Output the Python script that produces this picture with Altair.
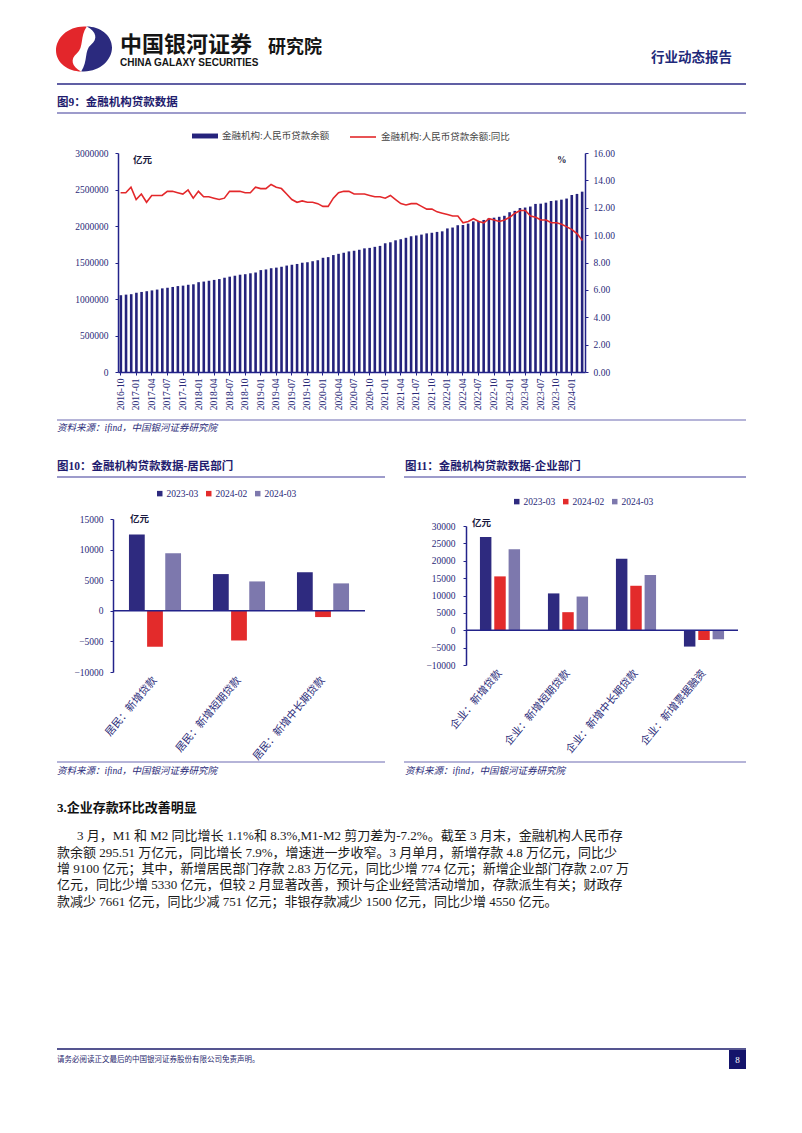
import altair as alt
import pandas as pd

# ---------------- data ----------------
months = []
for yy in range(2016, 2025):
    for mm in range(1, 13):
        if (yy == 2016 and mm < 10) or (yy == 2024 and mm > 3):
            continue
        months.append(f"{yy}-{mm:02d}")

balance = [
    1051900, 1059800, 1066000,
    1086300, 1096500, 1106700, 1117700, 1129000, 1145700, 1154000, 1165000, 1177000, 1183000, 1195000, 1201300,
    1230300, 1238700, 1250000, 1261600, 1273100, 1291500, 1306000, 1318800, 1332700, 1339700, 1352200, 1363000,
    1396000, 1404800, 1421500, 1429800, 1441600, 1458000, 1469000, 1480000, 1496900, 1503500, 1517400, 1531100,
    1564500, 1573500, 1601800, 1618800, 1633600, 1652000, 1661000, 1674500, 1693700, 1700000, 1714500, 1727500,
    1763300, 1776900, 1804000, 1818800, 1838300, 1859500, 1870200, 1882200, 1898800, 1907200, 1919000, 1926900,
    1966700, 1979000, 2010600, 2013900, 2032800, 2063500, 2070300, 2082800, 2107600, 2113900, 2126000, 2139900,
    2188900, 2207000, 2246100, 2253000, 2266700, 2302500, 2305900, 2319400, 2342500, 2349900, 2360800, 2375900,
    2425000, 2439500, 2470400,
]
yoy = [
    13.1, 13.1, 13.5,
    12.6, 13.0, 12.4, 12.9, 12.9, 12.9, 13.2, 13.2, 13.1, 13.0, 13.3, 12.7,
    13.2, 12.8, 12.8, 12.7, 12.6, 12.7, 13.2, 13.2, 13.2, 13.1, 13.1, 13.5,
    13.4, 13.4, 13.7, 13.5, 13.4, 13.0, 12.6, 12.4, 12.5, 12.4, 12.4, 12.3,
    12.1, 12.1, 12.7, 13.1, 13.2, 13.2, 13.0, 13.0, 13.0, 12.9, 12.8, 12.8,
    12.7, 12.9, 12.6, 12.3, 12.2, 12.3, 12.3, 12.1, 11.9, 11.9, 11.7, 11.6,
    11.5, 11.4, 11.4, 10.9, 11.0, 11.2, 11.0, 10.9, 11.2, 11.1, 11.0, 11.1,
    11.3, 11.6, 11.8, 11.8, 11.4, 11.3, 11.1, 11.1, 10.9, 10.9, 10.8, 10.6,
    10.4, 10.1, 9.6,
]
series9_bar = "金融机构:人民币贷款余额"
series9_line = "金融机构:人民币贷款余额:同比"

periods = ["2023-03", "2024-02", "2024-03"]

cats10 = ["居民：新增贷款", "居民：新增短期贷款", "居民：新增中长期贷款"]
h_2303 = [12467, 6000, 6300]
h_2402 = [-5873, -4849, -1024]
h_2403 = [9406, 4800, 4480]

cats11 = ["企业：新增贷款", "企业：新增短期贷款", "企业：新增中长期贷款", "企业：新增票据融资"]
c_2303 = [26800, 10600, 20600, -4700]
c_2402 = [15500, 5200, 12800, -2800]
c_2403 = [23300, 9700, 15900, -2600]

para = [
    "3 月，M1 和 M2 同比增长 1.1%和 8.3%,M1-M2 剪刀差为-7.2%。截至 3 月末，金融机构人民币存",
    "款余额 295.51 万亿元，同比增长 7.9%，增速进一步收窄。3 月单月，新增存款 4.8 万亿元，同比少",
    "增 9100 亿元；其中，新增居民部门存款 2.83 万亿元，同比少增 774 亿元；新增企业部门存款 2.07 万",
    "亿元，同比少增 5330 亿元，但较 2 月显著改善，预计与企业经营活动增加，存款派生有关；财政存",
    "款减少 7661 亿元，同比少减 751 亿元；非银存款减少 1500 亿元，同比少增 4550 亿元。",
]

# ---------------- styles ----------------
NAVY_AX = "#23238a"
LBL = "#2a2a78"
TITLE_C = "#1f1c6e"
LAV = "#9d9bcb"
BAR9 = "#25237c"
RED = "#e3282b"
C3 = ["#2e2a7f", "#e32b2b", "#7d78ad"]
SERIF = "Liberation Serif, Noto Sans CJK SC"
CJK = "Noto Sans CJK SC"

W, H = 786, 1117
one = alt.Data(values=[{"k": 0}])


def txt(s, x, y, size, color="#111111", weight="normal", align="left", font=SERIF, style="normal"):
    return alt.Chart(one).mark_text(
        text=s, align=align, baseline="middle", fontSize=size, font=font,
        fontWeight=weight, fontStyle=style, color=color,
    ).encode(x=alt.value(x), y=alt.value(y))


def hline(x0, x1, y, color, w):
    return alt.Chart(one).mark_rule(color=color, strokeWidth=w).encode(
        x=alt.value(x0), x2=alt.value(x1), y=alt.value(y))


axis_common = dict(domainColor=NAVY_AX, domainWidth=1.5, tickColor=NAVY_AX, labelColor=LBL,
                   labelFont=SERIF, grid=False, title=None)

layers = []

# ---------------- header ----------------
red_path = ("M 0.1,-0.8 C -0.55,-0.85 -1.0,-0.4 -1.0,0.05 C -1.0,0.5 -0.55,0.8 -0.1,0.8 "
            "C -0.45,0.62 -0.5,0.35 -0.25,0.15 C 0.0,-0.05 -0.15,-0.45 0.1,-0.8 Z")
navy_path = ("M -0.1,0.8 C 0.55,0.85 1.0,0.4 1.0,-0.05 C 1.0,-0.5 0.55,-0.8 0.1,-0.8 "
             "C 0.45,-0.62 0.5,-0.35 0.25,-0.15 C 0.0,0.05 0.15,0.45 -0.1,0.8 Z")
layers += [
    alt.Chart(one).mark_point(shape=red_path, filled=True, size=3136, color="#e3262b",
                              opacity=1, strokeWidth=0).encode(x=alt.value(76), y=alt.value(41)),
    alt.Chart(one).mark_point(shape=navy_path, filled=True, size=3136, color="#2b2a7e",
                              opacity=1, strokeWidth=0).encode(x=alt.value(76), y=alt.value(41)),
    txt("中国银河证券", 112, 37, 22, "#151515", "bold", font=CJK),
    txt("CHINA GALAXY SECURITIES", 112, 55, 10, "#151515", "bold",
        font="Liberation Sans Narrow, Liberation Sans"),
    txt("研究院", 260, 40, 18, "#151515", "bold", font=CJK),
    txt("行业动态报告", 724, 50, 13.5, "#1f2a7a", "bold", align="right", font=CJK),
    hline(49, 738, 76, "#2b2a86", 1.5),
    txt("图9：金融机构贷款数据", 49, 95, 11.5, TITLE_C, "bold"),
    hline(49, 738, 105, LAV, 2),
]

# ---------------- chart 9 ----------------
df9 = pd.DataFrame({"月份": months, "余额": balance, "同比": yoy})
X9_RANGE = [110, 577]
Y9_RANGE = [364, 145]

bars9 = alt.Chart(df9).transform_calculate(s=f"'{series9_bar}'").mark_bar().encode(
    x=alt.X("月份:O", sort=months,
            scale=alt.Scale(range=X9_RANGE, paddingInner=0.5, paddingOuter=0.3),
            axis=alt.Axis(orient="bottom", offset=Y9_RANGE[0] - H, values=months[::3], labelAngle=270,
                          labelFontSize=9.5, tickSize=3, labelPadding=3, labelOverlap=False,
                          **axis_common)),
    y=alt.Y("余额:Q", scale=alt.Scale(domain=[0, 3000000], range=Y9_RANGE, nice=False),
            axis=alt.Axis(orient="left", offset=-X9_RANGE[0],
                          values=[0, 500000, 1000000, 1500000, 2000000, 2500000, 3000000], format="d",
                          labelFontSize=9.5, tickSize=3, labelPadding=7, **axis_common)),
    color=alt.Color("s:N", title=None, scale=alt.Scale(domain=[series9_bar], range=[BAR9]),
                    legend=alt.Legend(orient="none", legendX=184, legendY=115, direction="horizontal",
                                      symbolType="M-1,-0.19L1,-0.19L1,0.19L-1,0.19Z", symbolSize=676,
                                      symbolStrokeWidth=0, labelFont=SERIF, labelFontSize=9.5,
                                      labelColor="#444444", labelOffset=4)),
)
line9 = alt.Chart(df9).transform_calculate(s2=f"'{series9_line}'").mark_line(strokeWidth=1.6).encode(
    x=alt.X("月份:O", sort=months,
            scale=alt.Scale(range=X9_RANGE, paddingInner=0.5, paddingOuter=0.3), axis=None),
    y=alt.Y("同比:Q", scale=alt.Scale(domain=[0, 16], range=Y9_RANGE, nice=False),
            axis=alt.Axis(orient="right", offset=X9_RANGE[1] - W,
                          values=[0, 2, 4, 6, 8, 10, 12, 14, 16], format=".2f",
                          labelFontSize=9.5, tickSize=3, labelPadding=5, **axis_common)),
    stroke=alt.Stroke("s2:N", title=None, scale=alt.Scale(domain=[series9_line], range=[RED]),
                      legend=alt.Legend(orient="none", legendX=341, legendY=115, direction="horizontal",
                                        symbolType="stroke", symbolSize=676, symbolStrokeWidth=1.6,
                                        labelFont=SERIF, labelFontSize=9.5, labelColor="#444444",
                                        labelOffset=4)),
)
layers += [
    bars9, line9,
    txt("亿元", 125, 152, 9.5, "#1a1a40", "bold"),
    txt("%", 549, 152, 9.5, "#1a1a40", "bold"),
]

# ---------------- captions between charts ----------------
layers += [
    hline(49, 738, 412, LAV, 1.5),
    txt("资料来源：ifind，中国银河证券研究院", 49, 420, 9.5, LBL, style="italic"),
    txt("图10：金融机构贷款数据-居民部门", 49, 459, 11.5, TITLE_C, "bold"),
    txt("图11：金融机构贷款数据-企业部门", 397, 459, 11.5, TITLE_C, "bold"),
    hline(49, 377, 469, LAV, 2),
    hline(396, 738, 469, LAV, 2),
]


# ---------------- charts 10 & 11 ----------------
def long_df(cats, a, b, c):
    rows = []
    for i, cat in enumerate(cats):
        for p, v in zip(periods, (a[i], b[i], c[i])):
            rows.append({"项目": cat, "期间": p, "值": v})
    return pd.DataFrame(rows)


def group_layers(df, cats, dom, step, xr, yr, pin, pin_off, lx, ly, unit_xy, lpad):
    ysc = alt.Scale(domain=dom, range=yr, nice=False)
    bars = alt.Chart(df).mark_bar().encode(
        x=alt.X("项目:N", sort=cats, scale=alt.Scale(range=xr, paddingInner=pin, paddingOuter=pin / 2),
                axis=alt.Axis(orient="bottom", offset=yr[0] - H, labelAngle=310, domain=False,
                              ticks=False, labelFont=SERIF, labelFontSize=10.5, labelColor=LBL,
                              labelPadding=6, labelAlign="right", labelBaseline="middle",
                              labelLimit=200, title=None, grid=False)),
        xOffset=alt.XOffset("期间:N", sort=periods, scale=alt.Scale(paddingInner=pin_off)),
        y=alt.Y("值:Q", scale=ysc,
                axis=alt.Axis(orient="left", offset=-xr[0], values=list(range(dom[0], dom[1] + 1, step)),
                              format="d", labelFontSize=9.5, tickSize=3, labelPadding=lpad,
                              **axis_common)),
        color=alt.Color("期间:N", sort=periods, title=None,
                        scale=alt.Scale(domain=periods, range=C3),
                        legend=alt.Legend(orient="none", legendX=lx, legendY=ly, direction="horizontal",
                                          symbolType="square", symbolSize=30, symbolStrokeWidth=0,
                                          labelFont=SERIF, labelFontSize=9.5, labelColor=LBL,
                                          labelOffset=2, columnPadding=5)),
    )
    zero = alt.Chart(one).mark_rule(color=NAVY_AX, strokeWidth=1.5).encode(
        x=alt.value(xr[0]), x2=alt.value(xr[1]),
        y=alt.YDatum(0, type="quantitative", scale=ysc, axis=None))
    return [bars, zero, txt("亿元", unit_xy[0], unit_xy[1], 9.5, "#1a1a40", "bold")]


df10 = long_df(cats10, h_2303, h_2402, h_2403)
df11 = long_df(cats11, c_2303, c_2402, c_2403)

layers += group_layers(df10, cats10, [-10000, 15000], 5000, [105, 357], [664, 511], 0.38, 0.13,
                       147, 480.5, (122, 511), 7)
layers += group_layers(df11, cats11, [-10000, 30000], 5000, [458, 730], [657, 518], 0.41, 0.2,
                       504, 488.5, (464, 514.5), 8)

# ---------------- text and footer ----------------
layers += [
    hline(49, 377, 754, LAV, 1.5),
    hline(396, 738, 754, LAV, 1.5),
    txt("资料来源：ifind，中国银河证券研究院", 49, 763, 9.5, LBL, style="italic"),
    txt("资料来源：ifind，中国银河证券研究院", 397, 763, 9.5, LBL, style="italic"),
    txt("3.企业存款环比改善明显", 49, 800, 13, "#111111", "bold"),
]
para_y = [828, 844.5, 860.5, 877, 893.5]
for i, (line, yv) in enumerate(zip(para, para_y)):
    layers.append(txt(line, 69 if i == 0 else 49, yv, 13, "#1a1a1a"))
layers += [
    hline(49, 738, 1041, "#1c1c6b", 1.5),
    txt("请务必阅读正文最后的中国银河证券股份有限公司免责声明。", 49, 1052, 7.5, "#1f1f6e"),
    alt.Chart(one).mark_rect(color="#14146b").encode(
        x=alt.value(721), x2=alt.value(738), y=alt.value(1042), y2=alt.value(1061)),
    txt("8", 729.5, 1052, 9, "#ffffff", align="center"),
]

chart = alt.layer(*layers).resolve_scale(
    x="independent", y="independent", color="independent", xOffset="independent",
).properties(width=W, height=H, padding=0).configure_view(strokeWidth=0).configure_axis(grid=False)

chart.save("out.html", embed_options={"renderer": "svg", "actions": False})
